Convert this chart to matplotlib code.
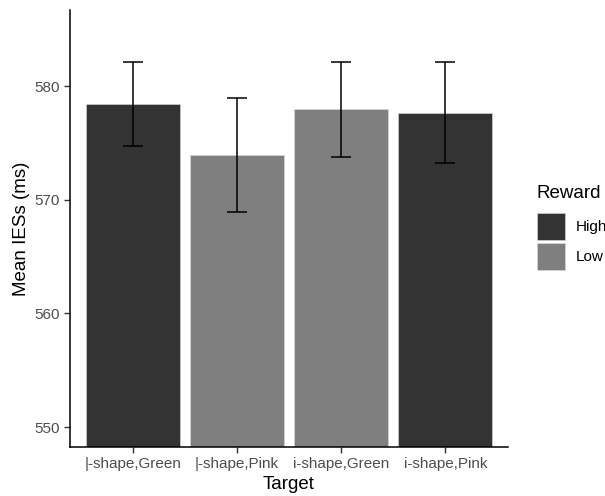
import matplotlib.pyplot as plt
from matplotlib.patches import Patch

plt.rcParams['font.family'] = ['Liberation Sans', 'DejaVu Sans']

# data
targets = ['|-shape,Green', '|-shape,Pink', 'i-shape,Green', 'i-shape,Pink']
reward = ['High', 'Low', 'Low', 'High']
mean_ies = [578.4, 573.95, 577.95, 577.65]
err = [3.7, 5.0, 4.2, 4.45]
yticks = [550, 560, 570, 580]

colors = {'High': '#333333', 'Low': '#7f7f7f'}
W, H = 605, 496

fig = plt.figure(figsize=(W / 100, H / 100), dpi=100)
ax = fig.add_axes([70 / W, 1 - 447 / H, 438 / W, 437 / H])

x = range(len(targets))
ax.bar(x, mean_ies, width=0.9, color=[colors[r] for r in reward],
       edgecolor='#dddddd', linewidth=0.4)
ax.errorbar(x, mean_ies, yerr=err, fmt='none', ecolor='black',
            elinewidth=1.1, capsize=7.2, capthick=1.1)

ax.set_xlim(-0.6, 3.6)
ax.set_ylim(548.25, 586.7)
ax.set_yticks(yticks)
ax.set_xticks(list(x))
ax.set_xticklabels(targets)

for s in ['top', 'right']:
    ax.spines[s].set_visible(False)
for s in ['left', 'bottom']:
    ax.spines[s].set_linewidth(1.1)
ax.tick_params(axis='both', colors='#333333', labelcolor='#4d4d4d',
               labelsize=11, length=4, width=1.0)

ax.set_xlabel('Target', fontsize=13.5, labelpad=3)
ax.set_ylabel('Mean IESs (ms)', fontsize=13.5, labelpad=3)

# legend
fig.text(537 / W, 1 - 194 / H, 'Reward', fontsize=13.5, ha='left', va='center')
handles = [Patch(facecolor=colors[k], edgecolor='#dddddd', linewidth=0.4) for k in ['High', 'Low']]
leg = fig.legend(handles, ['High', 'Low'], loc='upper left',
                 bbox_to_anchor=(537 / W, 1 - 213 / H), frameon=False,
                 fontsize=11, handlelength=1.83, handleheight=2.34,
                 handletextpad=0.7, labelspacing=0.2, borderaxespad=0, borderpad=0)

fig.savefig('out.png', dpi=100)
